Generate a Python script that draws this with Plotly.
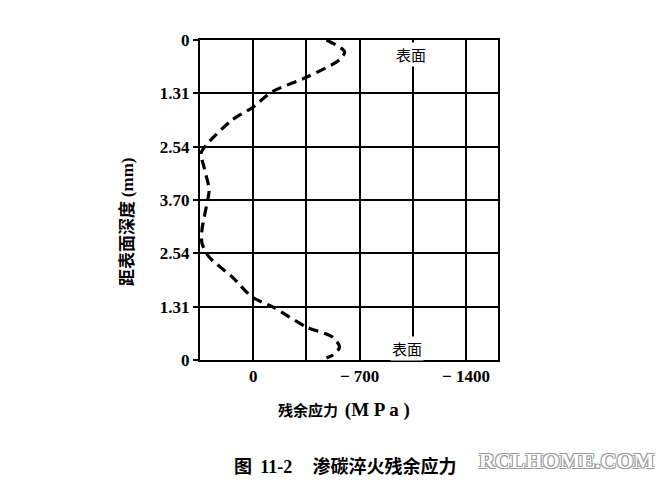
import plotly.graph_objects as go

# Depth position (evenly spaced grid rows, 0 = top surface, 6 = bottom surface)
depth_pos = [0.00, 0.22, 0.37, 0.69, 0.97, 1.27, 1.50, 1.91, 2.12, 2.38, 2.81,
             3.06, 3.56, 3.81, 4.07, 4.44, 4.82, 5.00, 5.38, 5.57, 5.76, 5.91, 5.96]
# Residual stress (MPa)
stress = [-482, -601, -568, -357, -125, 7, 139, 290, 343, 324, 290,
          304, 337, 337, 290, 139, 7, -125, -350, -522, -568, -522, -482]

y_tickvals = [0, 1, 2, 3, 4, 5, 6]
y_ticktext = ["0", "1.31", "2.54", "3.70", "2.54", "1.31", "0"]
x_tickvals = [350, 0, -350, -700, -1050, -1400]
x_ticktext = ["", "0", "", "\u2212 700", "", "\u2212 1400"]

serif = "Liberation Serif, DejaVu Serif, serif"
cjk = "Noto Sans CJK SC, sans-serif"

# page offset (body margin) of the rendered figure
OFF = 8
L, R, T, B = 200 - OFF, 663 - 498 + OFF, 40 - OFF, 483 - 360 + OFF

fig = go.Figure()
fig.add_trace(go.Scatter(
    x=stress, y=depth_pos, mode="lines",
    line=dict(color="black", width=3.2, dash="10px,6px", shape="spline", smoothing=0.8),
    showlegend=False, hoverinfo="skip",
))

fig.update_layout(
    width=663, height=483,
    margin=dict(l=L, r=R, t=T, b=B),
    paper_bgcolor="white", plot_bgcolor="white",
    xaxis=dict(
        range=[350, -1610], tickvals=x_tickvals, ticktext=x_ticktext,
        showgrid=True, gridcolor="black", gridwidth=2,
        showline=True, linecolor="black", linewidth=2, mirror=True,
        zeroline=False, ticks="",
        tickfont=dict(family=serif, size=17, color="black", weight="bold"),
    ),
    yaxis=dict(
        range=[6, 0], tickvals=y_tickvals, ticktext=y_ticktext,
        showgrid=True, gridcolor="black", gridwidth=2,
        showline=True, linecolor="black", linewidth=2, mirror=True,
        zeroline=False, ticks="outside", ticklen=5, tickwidth=2, tickcolor="black",
        tickfont=dict(family=serif, size=17, color="black", weight="bold"),
    ),
    annotations=[
        dict(text="表面", x=-1035, y=0.28, xref="x", yref="y", showarrow=False,
             font=dict(family=cjk, size=15, color="black"), bgcolor="white"),
        dict(text="表面", x=-1010, y=5.78, xref="x", yref="y", showarrow=False,
             font=dict(family=cjk, size=15, color="black"), bgcolor="white"),
        dict(text="距表面深度 <span style='font-family:Liberation Serif'>(mm)</span>",
             x=125, y=221, showarrow=False, textangle=-90,
             font=dict(family=cjk, size=17, color="black", weight="bold")),
        dict(text="残余应力  <span style='font-family:Liberation Serif;font-size:19px'>(M P a )</span>",
             x=344, y=410, showarrow=False,
             font=dict(family=cjk, size=15, color="black", weight="bold")),
        dict(text="图  <span style='font-family:Liberation Serif'>11-2</span>     渗碳淬火残余应力",
             x=345, y=465, showarrow=False,
             font=dict(family=cjk, size=18, color="black", weight="bold")),
        dict(text="RCLHOME.COM", x=567, y=460, showarrow=False,
             font=dict(family=serif, size=22, color="white", weight="bold",
                       shadow="1px 1px 0 #999, -1px -1px 0 #999, 1px -1px 0 #999, -1px 1px 0 #999")),
    ],
)

# Convert pixel-placed annotations (titles) to paper coordinates
pw, ph = 663 - L - R, 483 - T - B
for a in fig.layout.annotations[2:]:
    a.xref = "paper"; a.yref = "paper"
    a.x = (a.x - OFF - L) / pw
    a.y = 1 - (a.y - OFF - T) / ph
    a.xanchor = "center"; a.yanchor = "middle"

fig.write_html("out.html")
